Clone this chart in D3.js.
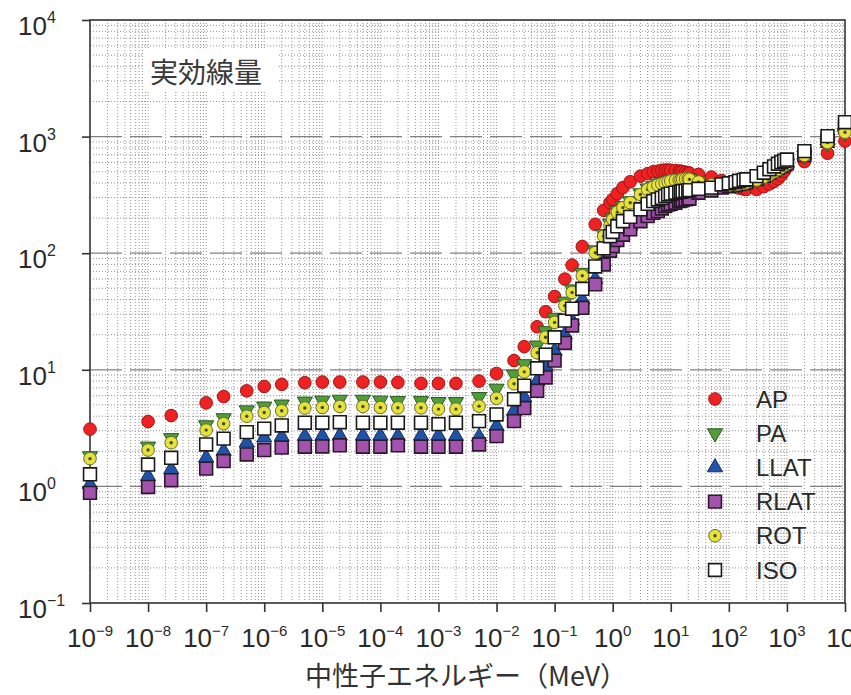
<!DOCTYPE html>
<html>
<head>
<meta charset="utf-8">
<script src="https://cdn.jsdelivr.net/npm/d3@7"></script>
<style>
  body { margin: 0; background: #fff; }
  svg { display: block; }
</style>
</head>
<body>
<svg id="chart" width="851" height="695"></svg>
<script>
// Neutron energy grid (MeV)
const energy = [
  1e-9, 1e-8, 2.5e-8, 1e-7, 2e-7, 5e-7, 1e-6, 2e-6, 5e-6, 1e-5,
  2e-5, 5e-5, 1e-4, 2e-4, 5e-4, 1e-3, 2e-3, 5e-3, 1e-2, 2e-2,
  3e-2, 5e-2, 7e-2, 0.1, 0.15, 0.2, 0.3, 0.5, 0.7, 0.9,
  1, 1.2, 1.5, 2, 3, 4, 5, 6, 7, 8,
  9, 10, 12, 14, 15, 16, 18, 20, 21, 30,
  50, 75, 100, 130, 150, 180, 200, 300, 400, 500,
  600, 700, 800, 900, 1000, 2000, 5000, 10000
];

// Effective dose per fluence for each irradiation geometry
const apValues = [
  3.1, 3.6, 4.05, 5.2, 5.9, 6.6, 7.2, 7.5, 7.75, 7.85,
  7.85, 7.85, 7.85, 7.8, 7.65, 7.65, 7.65, 8.0, 9.3, 12.0,
  15.8, 23.4, 31.5, 42.5, 60, 79, 114, 177, 233, 271,
  289, 324, 365, 410, 458, 481, 500, 505, 514, 516,
  516, 514, 512, 506, 504, 500, 495, 490, 486, 474,
  450, 420, 395, 372, 362, 355, 352, 352, 372, 392,
  412, 435, 465, 505, 550, 610, 720, 915
];
const paValues = [
  1.82, 2.2, 2.6, 3.35, 3.85, 4.5, 4.85, 5.05, 5.35, 5.45,
  5.55, 5.55, 5.45, 5.4, 5.4, 5.3, 5.3, 5.85, 6.9, 9.1,
  11.2, 16.2, 21.5, 28, 38.5, 49, 68, 106, 146, 180,
  202, 232, 254, 280, 327, 360, 377, 391, 401, 409,
  416, 422, 427, 431, 433, 435, 438, 440, 436, 412,
  390, 385, 386, 390, 395, 400, 405, 428, 452, 476,
  500, 524, 548, 570, 588, 690, 880, 1080
];
const llatValues = [
  1.04, 1.22, 1.40, 1.76, 2.01, 2.37, 2.62, 2.67, 2.70, 2.70,
  2.72, 2.72, 2.72, 2.70, 2.72, 2.72, 2.70, 2.67, 3.29, 4.45,
  5.8, 8.0, 10.8, 14.5, 20, 26.5, 40, 60, 85, 112,
  123, 140, 155, 172, 204, 226, 240, 250, 259, 268,
  276, 281, 289, 296, 299, 302, 306, 310, 312, 335,
  348, 366, 376, 386, 395, 402, 407, 435, 465, 495,
  520, 545, 565, 580, 595, 700, 930, 1220
];
const rlatValues = [
  0.88, 0.99, 1.13, 1.42, 1.65, 1.88, 2.05, 2.15, 2.19, 2.2,
  2.25, 2.19, 2.19, 2.25, 2.19, 2.19, 2.19, 2.29, 2.70, 3.63,
  4.7, 6.6, 8.6, 12.0, 17, 24, 34, 54, 80, 105,
  115, 130, 144, 160, 188, 208, 222, 230, 242, 254,
  262, 266, 271, 280, 283, 286, 290, 293, 295, 330,
  345, 365, 375, 385, 393, 400, 405, 432, 462, 492,
  518, 540, 560, 575, 590, 695, 920, 1200
];
const rotValues = [
  1.73, 2.05, 2.37, 3.04, 3.45, 4.0, 4.3, 4.45, 4.7, 4.75,
  4.85, 4.85, 4.75, 4.72, 4.72, 4.6, 4.6, 4.88, 5.7, 7.6,
  9.6, 14.0, 19.0, 25.5, 35.5, 46, 64, 101, 140, 172,
  195, 225, 246, 271, 319, 352, 369, 384, 394, 402,
  410, 416, 421, 425, 427, 430, 434, 436, 430, 408,
  386, 382, 383, 387, 392, 397, 402, 425, 450, 474,
  498, 522, 545, 566, 585, 690, 890, 1090
];
const isoValues = [
  1.27, 1.54, 1.76, 2.29, 2.57, 2.92, 3.13, 3.33, 3.52, 3.52,
  3.55, 3.52, 3.52, 3.52, 3.52, 3.42, 3.52, 3.63, 4.14, 5.6,
  7.3, 10.3, 13.5, 19, 26.4, 33.4, 49.5, 77, 110, 140,
  152, 170, 188, 205, 238, 265, 280, 289, 298, 309,
  319, 324, 330, 335, 337, 340, 343, 345, 347, 357,
  365, 389, 398, 407, 418, 425, 430, 458, 490, 525,
  555, 585, 605, 620, 635, 751, 1009, 1330
];

const seriesNames = ["AP", "PA", "LLAT", "RLAT", "ROT", "ISO"];
const xTickExponents = [-9, -8, -7, -6, -5, -4, -3, -2, -1, 0, 1, 2, 3, 4];
const yTickExponents = [-1, 0, 1, 2, 3, 4];
const chartTitle = "実効線量";
const xAxisTitle = "中性子エネルギー（MeV）";

const series = [
  { name: "AP",   values: apValues,   shape: "circle",   fill: "#ee2222", stroke: "#a01515" },
  { name: "PA",   values: paValues,   shape: "triDown",  fill: "#4f9e3a", stroke: "#2d5a22" },
  { name: "LLAT", values: llatValues, shape: "triUp",    fill: "#2053a8", stroke: "#1a2e5a" },
  { name: "RLAT", values: rlatValues, shape: "square",   fill: "#a352ad", stroke: "#2a1a2a" },
  { name: "ROT",  values: rotValues,  shape: "dotCircle",fill: "#e6e23c", stroke: "#6b6a30" },
  { name: "ISO",  values: isoValues,  shape: "square",   fill: "#ffffff", stroke: "#1a1a1a" }
];

const svg = d3.select("#chart");
svg.append("rect").attr("width", 851).attr("height", 695).attr("fill", "#fff");

const plotLeft = 90, plotRight = 845, plotTop = 20, plotBottom = 603;
const x = d3.scaleLog().domain([1e-9, 1e4]).range([plotLeft, plotRight]);
const y = d3.scaleLog().domain([1e-1, 1e4]).range([plotBottom, plotTop]);

const numFont = "'Liberation Sans', Arial, Helvetica, sans-serif";
const cjkFont = "'Noto Sans CJK JP', 'Noto Sans', sans-serif";

// ---- grid ----
const grid = svg.append("g");
const minorXs = [];
for (let e = -9; e < 4; e++) {
  for (let k = 1; k <= 9; k++) {
    const v = k * Math.pow(10, e);
    if (e === -9 && k === 1) continue;
    minorXs.push(v);
  }
}
const minorYs = [];
for (let e = -1; e < 4; e++) {
  for (let k = 2; k <= 9; k++) minorYs.push(k * Math.pow(10, e));
}
grid.selectAll("line.vx").data(minorXs).join("line")
  .attr("x1", d => x(d)).attr("x2", d => x(d))
  .attr("y1", plotTop).attr("y2", plotBottom)
  .attr("stroke", "#949494").attr("stroke-width", 1)
  .attr("stroke-dasharray", "1,2");
grid.selectAll("line.hy").data(minorYs).join("line")
  .attr("x1", plotLeft).attr("x2", plotRight)
  .attr("y1", d => y(d)).attr("y2", d => y(d))
  .attr("stroke", "#949494").attr("stroke-width", 1)
  .attr("stroke-dasharray", "1,2");
grid.selectAll("line.major").data([1, 10, 100, 1000]).join("line")
  .attr("x1", plotLeft).attr("x2", plotRight)
  .attr("y1", d => y(d)).attr("y2", d => y(d))
  .attr("stroke", "#808080").attr("stroke-width", 1.2)
  .attr("stroke-dasharray", "32,8");

// ---- title box ----
svg.append("rect").attr("x", 143).attr("y", 50).attr("width", 134).attr("height", 42).attr("fill", "#fff");
svg.append("text").attr("x", 150).attr("y", 83)
  .attr("font-family", cjkFont).attr("font-size", 28).attr("fill", "#3a3a3a")
  .text(chartTitle);

// ---- axes ----
const xTicks = xTickExponents.map(e => Math.pow(10, e));
const yTicks = yTickExponents.map(e => Math.pow(10, e));

const gx = svg.append("g").attr("transform", `translate(0,${plotBottom})`)
  .call(d3.axisBottom(x).tickValues(xTicks).tickSize(9).tickFormat(() => ""));
gx.select(".domain").remove();
gx.selectAll(".tick line").attr("stroke", "#333").attr("stroke-width", 1.6);

const gy = svg.append("g").attr("transform", `translate(${plotLeft},0)`)
  .call(d3.axisLeft(y).tickValues(yTicks).tickSize(8).tickFormat(() => ""));
gy.select(".domain").remove();
gy.selectAll(".tick line").attr("stroke", "#333").attr("stroke-width", 1.6);

svg.append("rect").attr("x", plotLeft).attr("y", plotTop)
  .attr("width", plotRight - plotLeft).attr("height", plotBottom - plotTop)
  .attr("fill", "none").attr("stroke", "#333").attr("stroke-width", 1.6);

const supText = e => (e < 0 ? "\u2212" + Math.abs(e) : String(e));

// x tick labels (the last one runs past the right edge of the figure)
xTickExponents.forEach(e => {
  const t = svg.append("text")
    .attr("x", x(Math.pow(10, e))).attr("y", 647)
    .attr("text-anchor", "middle")
    .attr("font-family", numFont).attr("font-size", 26).attr("fill", "#2a2a2a");
  t.append("tspan").text("10");
  t.append("tspan").attr("dy", -11).attr("font-size", 15).text(supText(e));
});

// y tick labels
yTickExponents.forEach(e => {
  const t = svg.append("text")
    .attr("x", 18).attr("y", y(Math.pow(10, e)) + 15)
    .attr("font-family", numFont).attr("font-size", 26).attr("fill", "#2a2a2a");
  t.append("tspan").text("10");
  t.append("tspan").attr("dy", -12).attr("font-size", 16).text(supText(e));
});

// x axis title
svg.append("text").attr("x", 466).attr("y", 686).attr("text-anchor", "middle")
  .attr("font-family", cjkFont).attr("font-size", 27).attr("fill", "#333")
  .text(xAxisTitle);

// ---- markers ----
function markerPath(shape) {
  switch (shape) {
    case "circle":
    case "dotCircle": return d3.symbol().type(d3.symbolCircle).size(125)();
    case "triUp":
    case "triDown": return d3.symbol().type(d3.symbolTriangle).size(100)();
    case "square": return d3.symbol().type(d3.symbolSquare).size(165)();
  }
}
function drawMarker(g, s) {
  g.append("path")
    .attr("d", markerPath(s.shape))
    .attr("transform", s.shape === "triDown" ? "rotate(180)" : null)
    .attr("fill", s.fill).attr("stroke", s.stroke)
    .attr("stroke-width", s.shape === "square" ? 1.6 : 1);
  if (s.shape === "dotCircle") {
    g.append("circle").attr("r", 1.7).attr("fill", "#4a4a2a");
  }
}

const marks = svg.append("g");
series.forEach(s => {
  const pts = energy.map((e, i) => ({ e, v: s.values[i] }));
  marks.append("g").selectAll("g").data(pts).join("g")
    .attr("transform", d => `translate(${x(d.e)},${y(d.v)})`)
    .each(function () { drawMarker(d3.select(this), s); });
});

// ---- legend ----
const legend = svg.append("g");
series.forEach((s, i) => {
  const ly = 399 + i * 34.2;
  const g = legend.append("g").attr("transform", `translate(715,${ly})`);
  drawMarker(g, s);
  legend.append("text").attr("x", 756).attr("y", ly + 8.5)
    .attr("font-family", numFont).attr("font-size", 24).attr("fill", "#2a2a2a")
    .text(s.name);
});
</script>
</body>
</html>
